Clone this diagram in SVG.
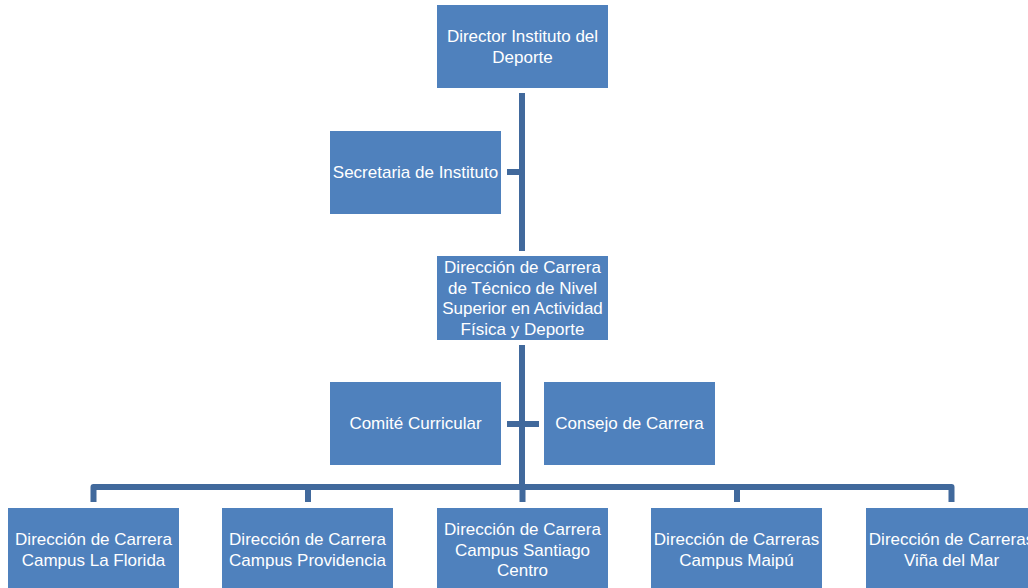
<svg xmlns="http://www.w3.org/2000/svg" width="1028" height="588" viewBox="0 0 1028 588">
<style>
.box{fill:#4F81BD;stroke:#FFFFFF;stroke-width:1}
.t{font-family:"Liberation Sans",Arial,sans-serif;font-size:17px;fill:#FFFFFF;text-anchor:middle}
.c{fill:none;stroke:#41699C;stroke-width:6;stroke-linejoin:round}
</style>
<rect width="1028" height="588" fill="#FFFFFF"/>
<g id="connectors">
<path class="c" d="M522 93 V251"/>
<path class="c" d="M507 172 H522"/>
<path class="c" d="M522 345 V487"/>
<path class="c" d="M507 424 H539"/>
<path class="c" d="M93.5 502 V487 H951.5 V502"/>
<path class="c" d="M308 487 V502 M522.5 487 V502 M737 487 V502"/>
</g>
<g id="n-director">
<rect class="box" x="436.5" y="4.5" width="172" height="84"/>
<text class="t" x="522.5" y="42">Director Instituto del</text>
<text class="t" x="522.5" y="63">Deporte</text>
</g>
<g id="n-secretaria">
<rect class="box" x="329.5" y="130.5" width="172" height="84"/>
<text class="t" x="415.5" y="178">Secretaria de Instituto</text>
</g>
<g id="n-direccion">
<rect class="box" x="436.5" y="255.5" width="172" height="85"/>
<text class="t" x="522.5" y="273">Dirección de Carrera</text>
<text class="t" x="522.5" y="293.5">de Técnico de Nivel</text>
<text class="t" x="522.5" y="314">Superior en Actividad</text>
<text class="t" x="522.5" y="334.5">Física y Deporte</text>
</g>
<g id="n-comite">
<rect class="box" x="329.5" y="381.5" width="172" height="84"/>
<text class="t" x="415.5" y="429">Comité Curricular</text>
</g>
<g id="n-consejo">
<rect class="box" x="543.5" y="381.5" width="172" height="84"/>
<text class="t" x="629.5" y="429">Consejo de Carrera</text>
</g>
<g id="n-laflorida">
<rect class="box" x="7.5" y="507.5" width="172" height="84"/>
<text class="t" x="93.5" y="545">Dirección de Carrera</text>
<text class="t" x="93.5" y="566">Campus La Florida</text>
</g>
<g id="n-providencia">
<rect class="box" x="221.5" y="507.5" width="172" height="84"/>
<text class="t" x="307.5" y="545">Dirección de Carrera</text>
<text class="t" x="307.5" y="566">Campus Providencia</text>
</g>
<g id="n-santiago">
<rect class="box" x="436.5" y="507.5" width="172" height="84"/>
<text class="t" x="522.5" y="535">Dirección de Carrera</text>
<text class="t" x="522.5" y="555.5">Campus Santiago</text>
<text class="t" x="522.5" y="576">Centro</text>
</g>
<g id="n-maipu">
<rect class="box" x="650.5" y="507.5" width="172" height="84"/>
<text class="t" x="736.5" y="545">Dirección de Carreras</text>
<text class="t" x="736.5" y="566">Campus Maipú</text>
</g>
<g id="n-vina">
<rect class="box" x="865.5" y="507.5" width="172" height="84"/>
<text class="t" x="951.5" y="545">Dirección de Carreras</text>
<text class="t" x="951.5" y="566">Viña del Mar</text>
</g>
</svg>
